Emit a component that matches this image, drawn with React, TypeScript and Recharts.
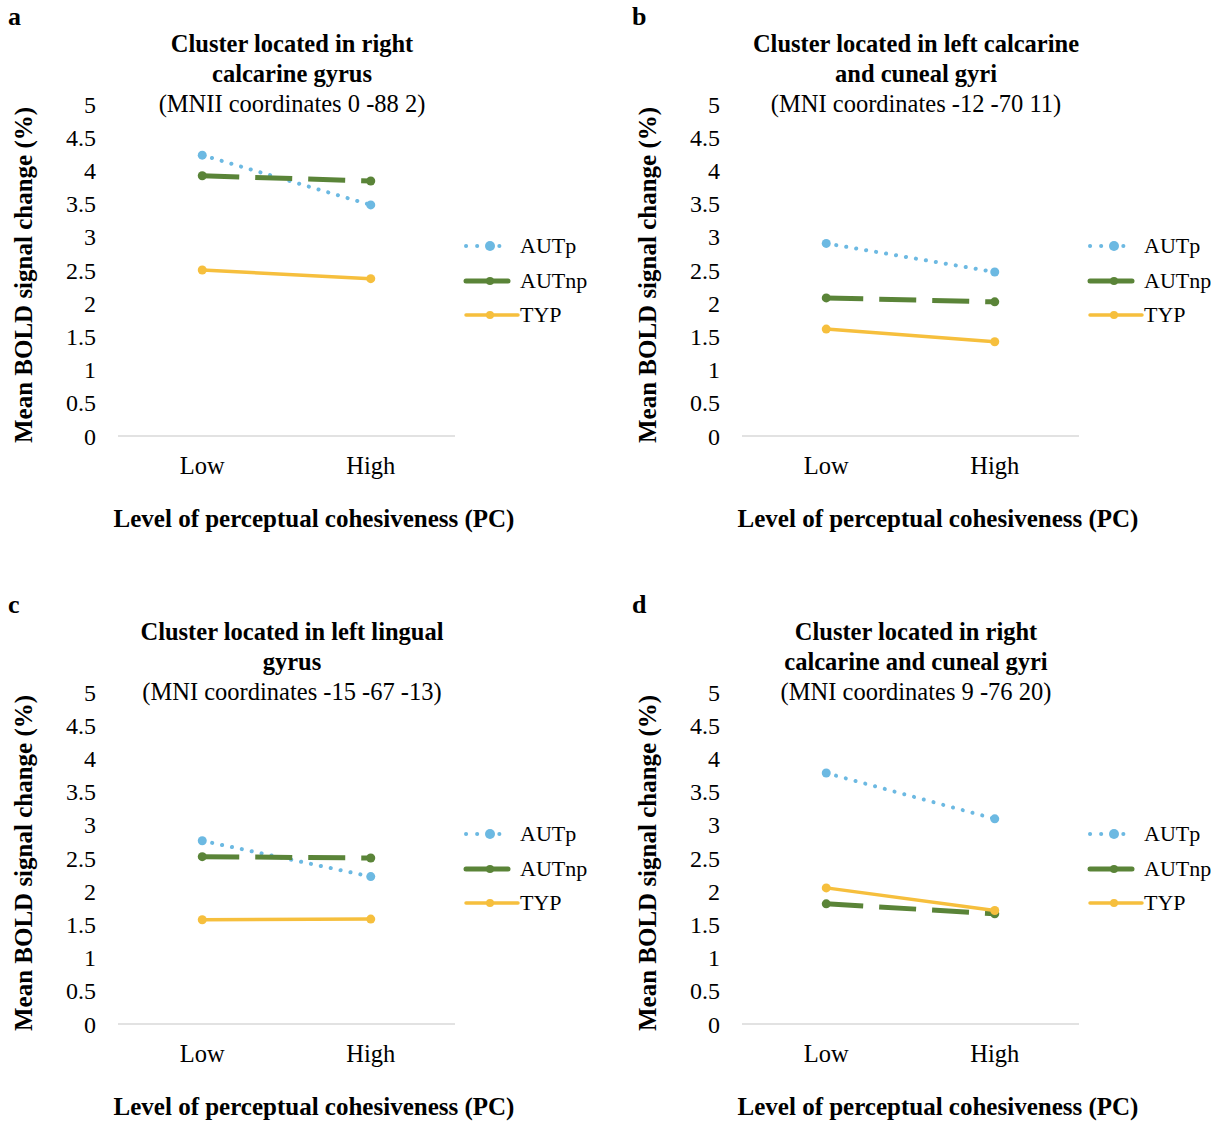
import React from "react";
import { LineChart, Line, XAxis, YAxis, Legend } from "recharts";

const categories = ["Low", "High"];
const yTicks = [0, 0.5, 1, 1.5, 2, 2.5, 3, 3.5, 4, 4.5, 5];

// panel a: right calcarine gyrus
const aAUTp = [4.23, 3.48];
const aAUTnp = [3.92, 3.84];
const aTYP = [2.5, 2.37];

// panel b: left calcarine and cuneal gyri
const bAUTp = [2.9, 2.47];
const bAUTnp = [2.08, 2.02];
const bTYP = [1.61, 1.42];

// panel c: left lingual gyrus
const cAUTp = [2.76, 2.22];
const cAUTnp = [2.52, 2.5];
const cTYP = [1.57, 1.58];

// panel d: right calcarine and cuneal gyri
const dAUTp = [3.78, 3.09];
const dAUTnp = [1.81, 1.66];
const dTYP = [2.05, 1.71];

const FONT = "'Liberation Serif', 'Times New Roman', serif";

const SERIES = [
  { key: "AUTp", color: "#6cb9e2", width: 4, dash: "0.1 10", cap: "round" as const },
  { key: "AUTnp", color: "#5a8438", width: 5, dash: "37 16", cap: "butt" as const },
  { key: "TYP", color: "#f6bf3d", width: 3.5, dash: undefined, cap: "round" as const },
];

function LegendBox() {
  return (
    <div style={{ fontFamily: FONT, fontSize: 22, color: "#000" }}>
      {SERIES.map((s) => (
        <div key={s.key} style={{ display: "flex", alignItems: "center", height: 34.5 }}>
          <svg width={58} height={20} style={{ display: "block" }}>
            <line
              x1={4}
              y1={10}
              x2={s.key === "TYP" ? 56 : 46}
              y2={10}
              stroke={s.color}
              strokeWidth={s.width}
              strokeDasharray={s.key === "AUTp" ? "0.1 11" : undefined}
              strokeLinecap="round"
            />
            <circle cx={28} cy={10} r={s.key === "AUTp" ? 5 : 4} fill={s.color} />
          </svg>
          <span>{s.key}</span>
        </div>
      ))}
    </div>
  );
}

interface PanelProps {
  letter: string;
  title: string[];
  coords: string;
  autp: number[];
  autnp: number[];
  typ: number[];
  left: number;
  top: number;
}

function Panel({ letter, title, coords, autp, autnp, typ, left, top }: PanelProps) {
  const data = categories.map((pc, i) => ({
    pc,
    AUTp: autp[i],
    AUTnp: autnp[i],
    TYP: typ[i],
  }));

  return (
    <div style={{ position: "absolute", left, top, width: 608, height: 560, fontFamily: FONT }}>
      <div style={{ position: "absolute", left: 8, top: 2, fontSize: 26, fontWeight: "bold" }}>{letter}</div>
      <div
        style={{
          position: "absolute",
          left: 42,
          width: 500,
          top: 29,
          textAlign: "center",
          lineHeight: "30px",
          fontSize: 24.5,
        }}
      >
        {title.map((t) => (
          <div key={t} style={{ fontWeight: "bold" }}>{t}</div>
        ))}
        <div>{coords}</div>
      </div>
      <div
        style={{
          position: "absolute",
          left: 24,
          top: 275,
          transform: "translate(-50%, -50%) rotate(-90deg)",
          whiteSpace: "nowrap",
          fontWeight: "bold",
          fontSize: 25,
        }}
      >
        Mean BOLD signal change (%)
      </div>
      <div
        style={{
          position: "absolute",
          left: 314,
          top: 519,
          transform: "translate(-50%, -50%)",
          whiteSpace: "nowrap",
          fontWeight: "bold",
          fontSize: 25,
        }}
      >
        Level of perceptual cohesiveness (PC)
      </div>
      <LineChart
        width={608}
        height={560}
        data={data}
        margin={{ top: 104, right: 153, left: 0, bottom: 0 }}
        style={{ position: "absolute", left: 0, top: 0 }}
      >
        <XAxis
          dataKey="pc"
          scale="band"
          height={124}
          tickLine={false}
          axisLine={{ stroke: "#d9d9d9", strokeWidth: 1.5 }}
          tickMargin={15}
          tick={{ fontSize: 24.5, fill: "#000", fontFamily: FONT }}
        />
        <YAxis
          width={118}
          domain={[0, 5]}
          ticks={yTicks}
          interval={0}
          tickLine={false}
          axisLine={false}
          tickMargin={16}
          tick={{ fontSize: 24, fill: "#000", fontFamily: FONT }}
        />
        <Legend
          layout="horizontal"
          align="center"
          verticalAlign="middle"
          content={() => <LegendBox />}
          wrapperStyle={{ left: 462, top: 229, width: 146, height: 110 }}
        />
        {SERIES.map((s) => (
          <Line
            key={s.key}
            dataKey={s.key}
            stroke={s.color}
            strokeWidth={s.width}
            strokeDasharray={s.dash}
            strokeLinecap={s.cap}
            dot={{ r: 4.5, fill: s.color, stroke: s.color, strokeWidth: 0 }}
            activeDot={false}
            isAnimationActive={false}
          />
        ))}
      </LineChart>
    </div>
  );
}

export default function App() {
  return (
    <div style={{ position: "absolute", left: 0, top: 0, width: 1217, height: 1122, background: "#fff" }}>
      <Panel
        letter="a"
        title={["Cluster located in right", "calcarine gyrus"]}
        coords="(MNII coordinates 0 -88 2)"
        autp={aAUTp}
        autnp={aAUTnp}
        typ={aTYP}
        left={0}
        top={0}
      />
      <Panel
        letter="b"
        title={["Cluster located in left calcarine", "and cuneal gyri"]}
        coords="(MNI coordinates -12 -70 11)"
        autp={bAUTp}
        autnp={bAUTnp}
        typ={bTYP}
        left={624}
        top={0}
      />
      <Panel
        letter="c"
        title={["Cluster located in left lingual", "gyrus"]}
        coords="(MNI coordinates -15 -67 -13)"
        autp={cAUTp}
        autnp={cAUTnp}
        typ={cTYP}
        left={0}
        top={588}
      />
      <Panel
        letter="d"
        title={["Cluster located in right", "calcarine and cuneal gyri"]}
        coords="(MNI coordinates 9 -76 20)"
        autp={dAUTp}
        autnp={dAUTnp}
        typ={dTYP}
        left={624}
        top={588}
      />
    </div>
  );
}
